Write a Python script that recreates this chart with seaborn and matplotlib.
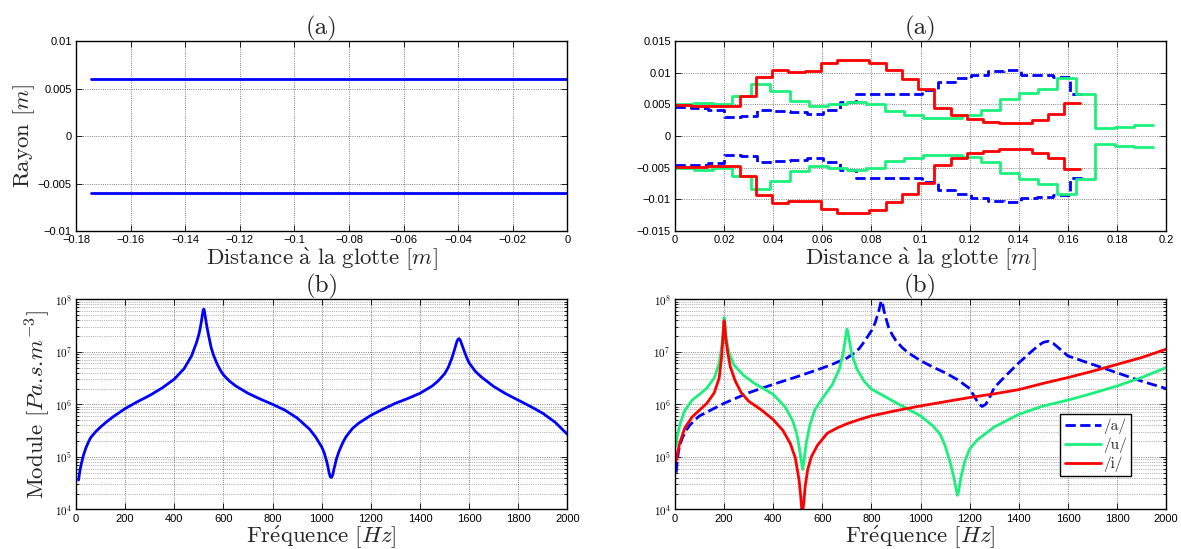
import numpy as np
import pandas as pd
import seaborn as sns
import matplotlib.pyplot as plt
from matplotlib.ticker import FuncFormatter, MultipleLocator, LogLocator, NullFormatter

# --- (a) left: uniform tube, distance to glottis / radius ---
tube_x = [-0.1745, 0.0]
tube_r = [0.006, 0.006]

# --- (a) right: vowel area functions, one radius per tube section ---
sec_len_a = 0.0067
rayon_a = [0.0046, 0.0045, 0.0042, 0.0030, 0.0032, 0.0041, 0.0040, 0.0038, 0.0035,
           0.0041, 0.0054, 0.0066, 0.0066, 0.0066, 0.0066, 0.0073, 0.0085, 0.0092,
           0.0097, 0.0103, 0.0104, 0.0097, 0.0096, 0.0093, 0.0066]
sec_len_u = 0.00778
rayon_u = [0.0050, 0.0053, 0.0051, 0.0063, 0.0083, 0.0071, 0.0055, 0.0047, 0.0050,
           0.0054, 0.0050, 0.0040, 0.0034, 0.0029, 0.0029, 0.0033, 0.0041, 0.0058,
           0.0068, 0.0075, 0.0092, 0.0067, 0.0013, 0.0015, 0.0017]
sec_len_i = 0.0066
rayon_i = [0.0049, 0.0048, 0.0047, 0.0047, 0.0063, 0.0093, 0.0105, 0.0102, 0.0103,
           0.0115, 0.0121, 0.0121, 0.0116, 0.0104, 0.0091, 0.0074, 0.0045, 0.0034,
           0.0027, 0.0023, 0.0020, 0.0020, 0.0026, 0.0035, 0.0052]

# --- (b) left: input impedance of the uniform tube (log10 of modulus) ---
freq_tube = [10, 15, 20, 30, 40, 50, 60, 80, 100, 125,
             150, 200, 250, 300, 350, 400, 440, 470, 490, 500,
             505, 510, 515, 518, 520, 522, 525, 530, 535, 540,
             550, 560, 575, 590, 600, 625, 650, 700, 750, 800,
             850, 900, 950, 975, 1000, 1010, 1020, 1025, 1030, 1035,
             1040, 1045, 1050, 1060, 1070, 1080, 1090, 1100, 1125, 1150,
             1200, 1250, 1300, 1350, 1400, 1450, 1475, 1500, 1515, 1530,
             1540, 1550, 1555, 1560, 1565, 1575, 1590, 1600, 1625, 1650,
             1700, 1750, 1800, 1850, 1900, 1950, 2000]
logz_tube = [4.56, 4.72, 4.84, 5.03, 5.17, 5.28, 5.37, 5.48, 5.57, 5.67,
             5.76, 5.92, 6.05, 6.17, 6.31, 6.48, 6.68, 6.92, 7.17, 7.33,
             7.44, 7.57, 7.72, 7.80, 7.81, 7.79, 7.70, 7.55, 7.42, 7.30,
             7.08, 6.93, 6.76, 6.63, 6.56, 6.44, 6.35, 6.21, 6.10, 6.00,
             5.89, 5.74, 5.53, 5.38, 5.19, 5.08, 4.92, 4.82, 4.70, 4.62,
             4.61, 4.66, 4.77, 4.96, 5.10, 5.21, 5.31, 5.39, 5.54, 5.64,
             5.79, 5.91, 6.02, 6.11, 6.21, 6.35, 6.45, 6.58, 6.70, 6.88,
             7.03, 7.19, 7.24, 7.25, 7.21, 7.08, 6.89, 6.79, 6.63, 6.52,
             6.34, 6.20, 6.08, 5.96, 5.83, 5.66, 5.43]

# --- (b) right: input impedance for /a/, /u/, /i/ (log10 of modulus) ---
freq_a = [5, 10, 15, 20, 30, 45, 60, 80, 100, 150,
          200, 300, 400, 500, 600, 650, 700, 725, 750, 775,
          800, 815, 830, 840, 845, 850, 860, 870, 885, 900,
          925, 950, 1000, 1050, 1100, 1150, 1200, 1220, 1235, 1250,
          1265, 1280, 1300, 1350, 1400, 1450, 1480, 1500, 1520, 1540,
          1560, 1600, 1650, 1700, 1800, 1900, 2000]
logz_a = [4.70, 4.95, 5.12, 5.22, 5.36, 5.50, 5.60, 5.70, 5.78, 5.90,
          6.02, 6.22, 6.38, 6.53, 6.69, 6.78, 6.88, 6.96, 7.06, 7.22,
          7.40, 7.55, 7.78, 7.97, 7.93, 7.80, 7.62, 7.46, 7.32, 7.21,
          7.08, 6.98, 6.83, 6.71, 6.60, 6.47, 6.30, 6.14, 6.02, 5.96,
          6.00, 6.12, 6.32, 6.56, 6.79, 7.00, 7.12, 7.18, 7.20, 7.16,
          7.08, 6.92, 6.84, 6.76, 6.60, 6.44, 6.30]
freq_u = [5, 10, 20, 40, 70, 100, 130, 160, 180, 190,
          195, 198, 200, 202, 205, 210, 220, 240, 280, 320,
          360, 400, 450, 480, 495, 505, 512, 520, 526, 535,
          550, 570, 600, 640, 670, 685, 695, 700, 704, 710,
          720, 740, 770, 800, 900, 1000, 1050, 1080, 1100, 1120,
          1135, 1145, 1150, 1155, 1165, 1180, 1200, 1230, 1300, 1400,
          1500, 1600, 1700, 1800, 1900, 2000]
logz_u = [5.21, 5.40, 5.62, 5.88, 6.08, 6.19, 6.31, 6.50, 6.78, 7.08,
          7.33, 7.52, 7.65, 7.60, 7.45, 7.22, 6.98, 6.75, 6.55, 6.41,
          6.30, 6.19, 5.94, 5.68, 5.45, 5.21, 5.00, 4.76, 4.95, 5.28,
          5.62, 5.90, 6.11, 6.37, 6.68, 6.98, 7.28, 7.43, 7.38, 7.21,
          6.95, 6.68, 6.44, 6.29, 6.03, 5.78, 5.59, 5.43, 5.21, 4.90,
          4.62, 4.38, 4.27, 4.35, 4.63, 4.92, 5.15, 5.32, 5.57, 5.81,
          5.97, 6.08, 6.21, 6.35, 6.51, 6.70]
freq_i = [5, 10, 20, 40, 70, 100, 130, 160, 180, 190,
          196, 200, 203, 207, 215, 225, 245, 270, 300, 350,
          400, 440, 470, 490, 505, 512, 518, 524, 530, 540,
          555, 580, 620, 660, 700, 750, 800, 900, 1000, 1100,
          1200, 1300, 1400, 1500, 1600, 1700, 1800, 1900, 2000]
logz_i = [4.92, 5.07, 5.27, 5.55, 5.76, 5.89, 6.02, 6.22, 6.50, 6.90,
          7.30, 7.59, 7.50, 7.25, 6.98, 6.72, 6.45, 6.22, 6.06, 5.90,
          5.71, 5.50, 5.25, 4.98, 4.57, 4.25, 3.90, 4.10, 4.43, 4.75,
          5.00, 5.22, 5.45, 5.55, 5.63, 5.71, 5.78, 5.88, 5.97, 6.05,
          6.13, 6.20, 6.28, 6.40, 6.51, 6.63, 6.76, 6.89, 7.05]

labels = ['/a/', '/u/', '/i/']
c_a, c_u, c_i = '#0000ff', '#1cf07c', '#ff0000'

sns.set_style("ticks")
plt.rcParams['font.family'] = ['Liberation Sans', 'DejaVu Sans']
plt.rcParams['mathtext.fontset'] = 'cm'
serif = ['cmr10', 'DejaVu Serif']
LBL = 16.5
TTL = 18

xlab_dist = r'$\mathrm{Distance}\ \grave{\mathrm{a}}\ \mathrm{la\ glotte}\ [m]$'
xlab_freq = r'$\mathrm{Fr}\acute{\mathrm{e}}\mathrm{quence}\ [Hz]$'
ylab_rayon = r'Rayon $[m]$'
ylab_module = r'Module $[Pa.\!s.\!m^{-3}]$'


def matlab_fmt(v, pos):
    if abs(v) < 1e-12:
        return "0"
    return f"{v:g}".replace('-', '\u2212')


def log_fmt(v, pos):
    return rf"$\mathsf{{10^{{{int(round(np.log10(v)))}}}}}$"


def style_axes(ax, log=False):
    ax.set_axisbelow(True)
    for s in ax.spines.values():
        s.set_linewidth(1.0)
        s.set_color('k')
    ax.tick_params(which='both', direction='in', top=True, right=True,
                   labelsize=8, width=0.6, colors='k', pad=3)
    ax.tick_params(which='major', length=4)
    ax.tick_params(which='minor', length=2)
    ax.grid(True, which='major', linestyle=':', color='k', linewidth=0.6, alpha=0.65)
    if log:
        ax.yaxis.grid(True, which='minor', linestyle=':', color='k', linewidth=0.5, alpha=0.55)


def steps(sec_len, radii):
    edges = np.arange(len(radii) + 1) * sec_len
    r = list(radii) + [radii[-1]]
    return edges, np.array(r)


fig = plt.figure(figsize=(11.81, 5.49), dpi=100)
ax1 = fig.add_axes([0.0644, 0.579, 0.416, 0.346])
ax2 = fig.add_axes([0.5715, 0.579, 0.416, 0.346])
ax3 = fig.add_axes([0.0644, 0.072, 0.416, 0.383])
ax4 = fig.add_axes([0.5715, 0.072, 0.416, 0.383])

# --- (a) uniform tube ---
sns.lineplot(x=tube_x, y=tube_r, ax=ax1, color=c_a, lw=2)
sns.lineplot(x=tube_x, y=[-r for r in tube_r], ax=ax1, color=c_a, lw=2)
ax1.set_xlim(-0.18, 0)
ax1.set_ylim(-0.01, 0.01)
ax1.xaxis.set_major_locator(MultipleLocator(0.02))
ax1.yaxis.set_major_locator(MultipleLocator(0.005))
ax1.xaxis.set_major_formatter(FuncFormatter(matlab_fmt))
ax1.yaxis.set_major_formatter(FuncFormatter(matlab_fmt))
ax1.set_title('(a)', fontsize=TTL, family=serif, pad=-1)
ax1.set_xlabel(xlab_dist, fontsize=LBL, labelpad=0)
ax1.set_ylabel(ylab_rayon, fontsize=LBL, family=serif, labelpad=1)
style_axes(ax1)

# --- (a) vowel area functions ---
for sec_len, radii, col, ls in [(sec_len_a, rayon_a, c_a, '--'),
                                (sec_len_u, rayon_u, c_u, '-'),
                                (sec_len_i, rayon_i, c_i, '-')]:
    xs, rs = steps(sec_len, radii)
    for sign in (1, -1):
        sns.lineplot(x=xs, y=sign * rs, ax=ax2, color=col, lw=2, ls=ls,
                     drawstyle='steps-post', estimator=None, sort=False)
ax2.set_xlim(0, 0.2)
ax2.set_ylim(-0.015, 0.015)
ax2.xaxis.set_major_locator(MultipleLocator(0.02))
ax2.yaxis.set_major_locator(MultipleLocator(0.005))
ax2.xaxis.set_major_formatter(FuncFormatter(matlab_fmt))
ax2.yaxis.set_major_formatter(FuncFormatter(matlab_fmt))
ax2.set_title('(a)', fontsize=TTL, family=serif, pad=-1)
ax2.set_xlabel(xlab_dist, fontsize=LBL, labelpad=0)
ax2.set_ylabel('')
style_axes(ax2)

# --- (b) impedance, uniform tube ---
tube_df = pd.DataFrame({'f': freq_tube, 'z': 10 ** np.array(logz_tube)})
sns.lineplot(data=tube_df, x='f', y='z', ax=ax3, color=c_a, lw=2)

# --- (b) impedance, vowels ---
for f, lz, col, ls, lab in [(freq_a, logz_a, c_a, '--', labels[0]),
                            (freq_u, logz_u, c_u, '-', labels[1]),
                            (freq_i, logz_i, c_i, '-', labels[2])]:
    sns.lineplot(x=f, y=10 ** np.array(lz), ax=ax4, color=col, lw=2, ls=ls, label=lab)

for ax in (ax3, ax4):
    ax.set_yscale('log')
    ax.set_xlim(0, 2000)
    ax.set_ylim(1e4, 1e8)
    ax.xaxis.set_major_locator(MultipleLocator(200))
    ax.yaxis.set_major_locator(LogLocator(base=10, numticks=10))
    ax.yaxis.set_minor_locator(LogLocator(base=10, subs=np.arange(2, 10), numticks=20))
    ax.yaxis.set_minor_formatter(NullFormatter())
    ax.yaxis.set_major_formatter(FuncFormatter(log_fmt))
    ax.set_title('(b)', fontsize=TTL, family=serif, pad=-1)
    ax.set_xlabel(xlab_freq, fontsize=LBL, labelpad=0)
    style_axes(ax, log=True)

ax3.set_ylabel(ylab_module, fontsize=LBL, family=serif, labelpad=1)
ax4.set_ylabel('')

leg = ax4.legend(loc='lower left', bbox_to_anchor=(0.784, 0.157), borderaxespad=0,
                 prop={'family': serif, 'size': 11}, handlelength=2.4,
                 handletextpad=0.1, labelspacing=0.22, borderpad=0.3,
                 fancybox=False, framealpha=1)
leg.get_frame().set_edgecolor('k')
leg.get_frame().set_linewidth(1.0)

fig.savefig('out.png', dpi=100)
